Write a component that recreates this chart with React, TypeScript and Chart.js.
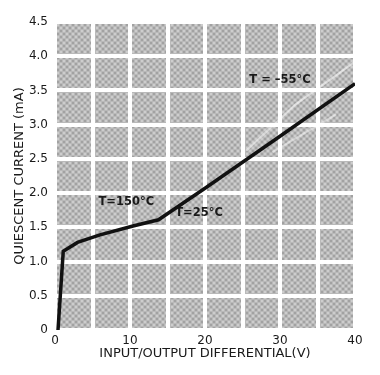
import React, { useEffect, useRef } from "react";
import { Chart, registerables } from "chart.js";

Chart.register(...registerables);

// Main quiescent-current curve
const mainX = [0.4, 1.1, 3, 6, 10.4, 13.8, 20, 30, 40];
const mainY = [0, 1.15, 1.28, 1.39, 1.52, 1.61, 2.07, 2.83, 3.6];

// Faint (white) traces of the other temperature curves
const coldX = [25.5, 32, 40];
const coldY = [2.62, 3.29, 3.92];
const hotX = [29, 37.5];
const hotY = [2.6, 3.15];

const xTickLabels = ["0", "10", "20", "30", "40"];
const yTickLabels = ["0", "0.5", "1.0", "1.5", "2.0", "2.5", "3.0", "3.5", "4.0", "4.5"];

const curveLabels = ["T = \u201355\u00b0C", "T=150\u00b0C", "T=25\u00b0C"];
const curveLabelX = [30, 9.5, 19.2];
const curveLabelY = [3.65, 1.87, 1.71];

const FONT = "'DejaVu Sans', sans-serif";

export default function App() {
  const ref = useRef<HTMLCanvasElement | null>(null);

  useEffect(() => {
    const canvas = ref.current;
    if (!canvas) return;

    const pc = document.createElement("canvas");
    pc.width = 6;
    pc.height = 6;
    const p = pc.getContext("2d")!;
    p.fillStyle = "#b9b9b9";
    p.fillRect(0, 0, 6, 6);
    p.fillStyle = "#a2a2a2";
    p.fillRect(0, 0, 2, 2);
    p.fillRect(3, 3, 2, 2);
    p.fillStyle = "#cdcdcd";
    p.fillRect(3, 0, 2, 2);
    p.fillRect(0, 3, 2, 2);
    const ctxMain = canvas.getContext("2d")!;
    const pattern = ctxMain.createPattern(pc, "repeat");

    const bgPlugin = {
      id: "bg",
      beforeDraw(chart: any) {
        const { ctx, chartArea } = chart;
        ctx.save();
        ctx.fillStyle = pattern || "#b9b9b9";
        ctx.fillRect(chartArea.left, chartArea.top, chartArea.right - chartArea.left, chartArea.bottom - chartArea.top);
        ctx.restore();
      },
    };

    const labelPlugin = {
      id: "curveLabels",
      beforeDatasetsDraw(chart: any) {
        const { ctx, scales } = chart;
        ctx.save();
        ctx.font = `bold 11.5px ${FONT}`;
        ctx.fillStyle = "#1a1a1a";
        ctx.textAlign = "center";
        ctx.textBaseline = "middle";
        curveLabels.forEach((t, i) => {
          ctx.fillText(t, scales.x.getPixelForValue(curveLabelX[i]), scales.y.getPixelForValue(curveLabelY[i]));
        });
        ctx.restore();
      },
    };

    const chart = new Chart(canvas, {
      type: "line",
      data: {
        datasets: [
          {
            data: coldX.map((x, i) => ({ x, y: coldY[i] })),
            borderColor: "rgba(255,255,255,0.55)",
            borderWidth: 2,
            pointRadius: 0,
          },
          {
            data: hotX.map((x, i) => ({ x, y: hotY[i] })),
            borderColor: "rgba(255,255,255,0.45)",
            borderWidth: 2,
            pointRadius: 0,
          },
          {
            data: mainX.map((x, i) => ({ x, y: mainY[i] })),
            borderColor: "#111111",
            borderWidth: 3.5,
            pointRadius: 0,
            tension: 0,
          },
        ],
      },
      plugins: [bgPlugin, labelPlugin],
      options: {
        animation: false,
        responsive: false,
        devicePixelRatio: 1,
        layout: { padding: { top: 22, right: 25, left: 0, bottom: 0 } },
        plugins: { legend: { display: false }, tooltip: { enabled: false } },
        scales: {
          x: {
            type: "linear",
            min: 0,
            max: 40,
            afterFit(scale: any) {
              scale.height = 45;
            },
            ticks: {
              stepSize: 5,
              padding: 4,
              color: "#1a1a1a",
              font: { family: FONT, size: 12 },
              maxRotation: 0,
              callback: (v: any) => {
                const n = Number(v);
                return n % 10 === 0 ? xTickLabels[n / 10] : "";
              },
            },
            grid: { color: "#ffffff", lineWidth: 4, drawTicks: false },
            border: { display: false },
            title: {
              display: true,
              text: "INPUT/OUTPUT DIFFERENTIAL(V)",
              color: "#1a1a1a",
              font: { family: FONT, size: 13 },
              padding: { top: 0, bottom: 14 },
            },
          },
          y: {
            min: 0,
            max: 4.5,
            afterFit(scale: any) {
              scale.width = 55;
            },
            ticks: {
              stepSize: 0.5,
              padding: 7,
              color: "#1a1a1a",
              font: { family: FONT, size: 12 },
              callback: (v: any) => yTickLabels[Math.round(Number(v) * 2)],
            },
            grid: { color: "#ffffff", lineWidth: 4, drawTicks: false },
            border: { display: false },
            title: {
              display: true,
              text: "QUIESCENT CURRENT (mA)",
              color: "#1a1a1a",
              font: { family: FONT, size: 13 },
              padding: { top: 12, bottom: 0 },
            },
          },
        },
      },
    });

    return () => chart.destroy();
  }, []);

  return (
    <div style={{ position: "absolute", left: 0, top: 0, width: 380, height: 375, background: "#fff" }}>
      <canvas ref={ref} width={380} height={375} />
    </div>
  );
}
